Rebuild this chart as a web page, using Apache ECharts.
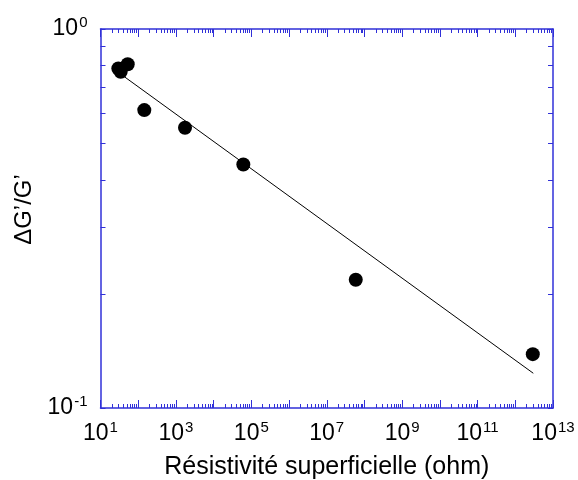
<!DOCTYPE html>
<html>
<head>
<meta charset="utf-8">
<script src="https://cdn.jsdelivr.net/npm/echarts@6/dist/echarts.min.js"></script>
<style>
  html, body { margin: 0; padding: 0; background: #fff; }
  #chart { width: 578px; height: 480px; }
</style>
</head>
<body>
<div id="chart"></div>
<script>
// Surface resistivity (ohm) vs relative change ΔG'/G'
const resistivity = [29.7, 34.3, 52.7, 145, 1743, 6.13e4, 5.88e7, 2.91e12];
const deltaG = [0.787, 0.771, 0.807, 0.611, 0.549, 0.439, 0.218, 0.1387];

// Power-law fit drawn between its two end points
const fitX = [31.6, 3.0e12];
const fitY = [0.765, 0.1235];

const xAxisName = 'Résistivité superficielle (ohm)';
const yAxisName = 'ΔG’/G’';

const AXIS_BLUE = '#3030d8';
const FONT = 'Liberation Sans, Arial, sans-serif';

const points = resistivity.map((x, i) => [x, deltaG[i]]);
const fitLine = fitX.map((x, i) => [x, fitY[i]]);

function powLabel(v, onlyOdd) {
  const e = Math.round(Math.log10(v));
  if (onlyOdd && Math.abs(e) % 2 !== 1) return '';
  return '{b|10}{s|' + e + '}';
}

const richPow = {
  b: { fontSize: 23, fontFamily: FONT, color: '#000' },
  s: { fontSize: 15, fontFamily: FONT, color: '#000', padding: [0, 0, 13, 1] }
};

const chart = echarts.init(document.getElementById('chart'), null, { renderer: 'canvas' });

const baseX = {
  type: 'log', logBase: 10, min: 10, max: 1e13, interval: 1,
  axisLine: { lineStyle: { color: AXIS_BLUE, width: 1.5 } },
  axisTick: { inside: true, length: 8, lineStyle: { color: AXIS_BLUE, width: 1 } },
  minorTick: { show: true, splitNumber: 9, length: 4, lineStyle: { color: AXIS_BLUE, width: 1 } },
  splitLine: { show: false },
  minorSplitLine: { show: false }
};
const baseY = {
  type: 'log', logBase: 10, min: 0.1, max: 1,
  axisLine: { lineStyle: { color: AXIS_BLUE, width: 1.5 } },
  axisTick: { inside: true, length: 5, lineStyle: { color: AXIS_BLUE, width: 1 } },
  minorTick: { show: true, splitNumber: 9, length: 5, lineStyle: { color: AXIS_BLUE, width: 1 } },
  splitLine: { show: false },
  minorSplitLine: { show: false }
};

chart.setOption({
  animation: false,
  backgroundColor: '#fff',
  grid: { left: 100.5, right: 25, top: 29, bottom: 72, containLabel: false, outerBoundsMode: 'none' },
  xAxis: [
    Object.assign({}, baseX, {
      position: 'bottom',
      name: xAxisName, nameLocation: 'middle', nameGap: 47,
      nameTextStyle: { fontSize: 25, fontFamily: FONT, color: '#000' },
      axisLabel: { margin: 12, showMinLabel: true, showMaxLabel: true,
        formatter: v => powLabel(v, true), rich: richPow }
    }),
    Object.assign({}, baseX, { position: 'top', axisLabel: { show: false } })
  ],
  yAxis: [
    Object.assign({}, baseY, {
      position: 'left',
      name: yAxisName, nameLocation: 'middle', nameGap: 63, nameRotate: 90,
      nameTextStyle: { fontSize: 24, fontFamily: FONT, color: '#000', padding: [0, 0, 0, 18] },
      axisLabel: { margin: 13, formatter: v => powLabel(v, false), rich: richPow }
    }),
    Object.assign({}, baseY, { position: 'right', axisLabel: { show: false } })
  ],
  series: [
    {
      type: 'line', data: fitLine, xAxisIndex: 0, yAxisIndex: 0,
      showSymbol: false, symbol: 'none',
      lineStyle: { color: '#000', width: 1 }, z: 2
    },
    {
      type: 'scatter', data: points, xAxisIndex: 0, yAxisIndex: 0,
      symbol: 'circle', symbolSize: 14,
      itemStyle: { color: '#000', opacity: 1 }, z: 3
    }
  ]
});
</script>
</body>
</html>
